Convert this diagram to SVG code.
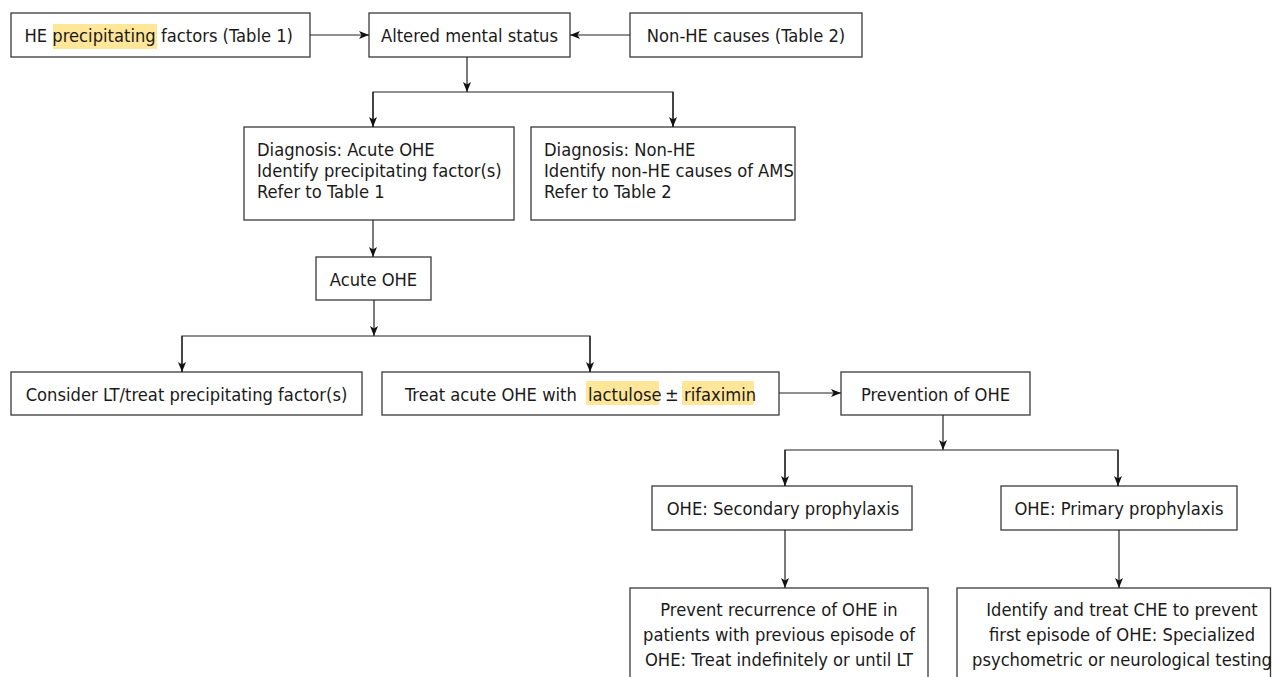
<svg xmlns="http://www.w3.org/2000/svg" width="1272" height="677" viewBox="0 0 1272 677">
<style>
.box{fill:#fff;stroke:#3a3a3a;stroke-width:1.3}
.t{font-family:"DejaVu Sans Condensed","DejaVu Sans",sans-serif;font-stretch:semi-condensed;font-size:18.2px;fill:#1a1a1a}
.c{text-anchor:middle}
.hl{fill:#ffe699}
.ln{fill:none;stroke:#222;stroke-width:1.2}
</style>
<defs>
<marker id="ah" viewBox="0 0 10 8" refX="10" refY="4" markerWidth="10" markerHeight="8" markerUnits="userSpaceOnUse" orient="auto">
<path d="M0,0 L10,4 L0,8 L2.5,4 z" fill="#111"/>
</marker>
</defs>
<rect width="1272" height="677" fill="#fff"/>

<g id="n-he-factors">
<rect class="box" x="11" y="13" width="299" height="44"/>
<rect class="hl" x="53" y="24" width="104" height="25"/>
<text class="t" x="24.5" y="42">HE precipitating factors (Table 1)</text>
</g>
<g id="n-ams">
<rect class="box" x="369" y="13" width="201" height="44"/>
<text class="t c" x="469.5" y="42">Altered mental status</text>
</g>
<g id="n-nonhe-causes">
<rect class="box" x="630" y="13" width="232" height="44"/>
<text class="t c" x="746" y="42">Non-HE causes (Table 2)</text>
</g>
<g id="n-diag-ohe">
<rect class="box" x="244" y="127" width="270" height="93"/>
<text class="t" x="257" y="155.5">Diagnosis: Acute OHE</text>
<text class="t" x="257" y="176.5">Identify precipitating factor(s)</text>
<text class="t" x="257" y="197.5">Refer to Table 1</text>
</g>
<g id="n-diag-nonhe">
<rect class="box" x="531" y="127" width="264" height="93"/>
<text class="t" x="544" y="155.5">Diagnosis: Non-HE</text>
<text class="t" x="544" y="176.5">Identify non-HE causes of AMS</text>
<text class="t" x="544" y="197.5">Refer to Table 2</text>
</g>
<g id="n-acute-ohe">
<rect class="box" x="316" y="257" width="115" height="43"/>
<text class="t c" x="373.5" y="285.5">Acute OHE</text>
</g>
<g id="n-consider-lt">
<rect class="box" x="11" y="372" width="351" height="43"/>
<text class="t c" x="186.5" y="400.5">Consider LT/treat precipitating factor(s)</text>
</g>
<g id="n-treat">
<rect class="box" x="382" y="372" width="397" height="43"/>
<rect class="hl" x="586" y="381" width="73" height="24"/>
<rect class="hl" x="682" y="381" width="72" height="24"/>
<text class="t" x="405" y="400.5">Treat acute OHE with <tspan x="588">lactulose</tspan><tspan x="665">±</tspan><tspan x="684">rifaximin</tspan></text>
</g>
<g id="n-prevention">
<rect class="box" x="841" y="372" width="189" height="43"/>
<text class="t c" x="935.5" y="400.5">Prevention of OHE</text>
</g>
<g id="n-secondary">
<rect class="box" x="652" y="486" width="260" height="44"/>
<text class="t c" x="783" y="514.5">OHE: Secondary prophylaxis</text>
</g>
<g id="n-primary">
<rect class="box" x="1001" y="486" width="236" height="44"/>
<text class="t c" x="1119" y="514.5">OHE: Primary prophylaxis</text>
</g>
<g id="n-prevent-recurrence">
<rect class="box" x="630" y="588" width="298" height="110"/>
<text class="t c" x="779" y="615.5">Prevent recurrence of OHE in</text>
<text class="t c" x="779" y="640.5">patients with previous episode of</text>
<text class="t c" x="779" y="666">OHE: Treat indefinitely or until LT</text>
</g>
<g id="n-identify-che">
<rect class="box" x="957" y="588" width="313.5" height="110"/>
<text class="t c" x="1122" y="615.5">Identify and treat CHE to prevent</text>
<text class="t c" x="1122" y="640.5">first episode of OHE: Specialized</text>
<text class="t c" x="1122" y="666">psychometric or neurological testing</text>
</g>

<g id="connectors">
<line class="ln" x1="310" y1="35" x2="369" y2="35" marker-end="url(#ah)"/>
<line class="ln" x1="630" y1="35" x2="570" y2="35" marker-end="url(#ah)"/>
<line class="ln" x1="467" y1="57" x2="467" y2="92" marker-end="url(#ah)"/>
<polyline class="ln" points="373,127 373,92 673,92 673,127"/>
<line class="ln" x1="373" y1="92" x2="373" y2="127" marker-end="url(#ah)"/>
<line class="ln" x1="673" y1="92" x2="673" y2="127" marker-end="url(#ah)"/>
<line class="ln" x1="373" y1="220" x2="373" y2="257" marker-end="url(#ah)"/>
<line class="ln" x1="374" y1="300" x2="374" y2="336" marker-end="url(#ah)"/>
<polyline class="ln" points="182,372 182,336 590,336 590,372"/>
<line class="ln" x1="182" y1="336" x2="182" y2="372" marker-end="url(#ah)"/>
<line class="ln" x1="590" y1="336" x2="590" y2="372" marker-end="url(#ah)"/>
<line class="ln" x1="779" y1="393" x2="841" y2="393" marker-end="url(#ah)"/>
<line class="ln" x1="943" y1="415" x2="943" y2="450" marker-end="url(#ah)"/>
<polyline class="ln" points="785,486 785,450 1118,450 1118,486"/>
<line class="ln" x1="785" y1="450" x2="785" y2="486" marker-end="url(#ah)"/>
<line class="ln" x1="1118" y1="450" x2="1118" y2="486" marker-end="url(#ah)"/>
<line class="ln" x1="785" y1="530" x2="785" y2="588" marker-end="url(#ah)"/>
<line class="ln" x1="1119" y1="530" x2="1119" y2="588" marker-end="url(#ah)"/>
</g>
</svg>
